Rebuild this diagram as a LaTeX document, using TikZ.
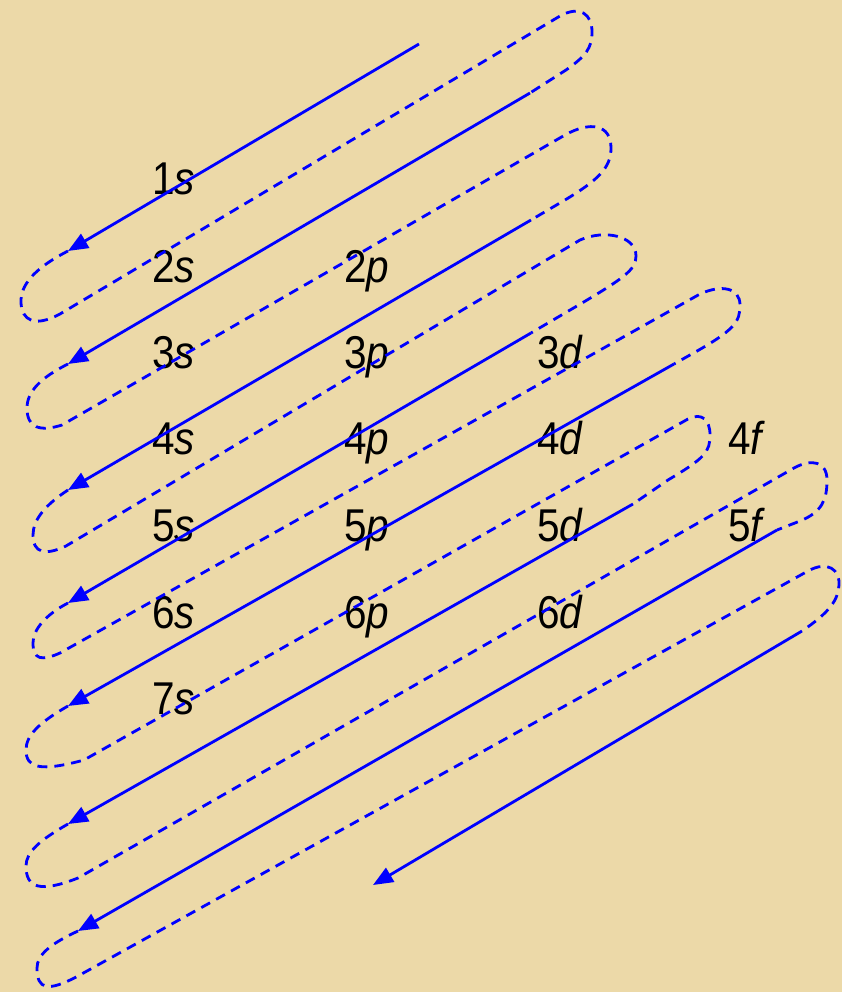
\documentclass[tikz,border=0pt]{standalone}
\usepackage{fontspec}
\setmainfont{Liberation Sans}[FakeStretch=0.88]
\usetikzlibrary{arrows.meta}
\definecolor{paper}{RGB}{236,217,168}
\definecolor{lineblue}{RGB}{0,0,255}

\begin{document}
\begin{tikzpicture}[x=1pt, y=-1pt,
  every node/.style={anchor=base west, inner sep=0pt, font=\fontsize{46}{50}\selectfont},
  fill arrow/.style={lineblue, line width=2.8pt, -{Triangle[length=20pt,width=16pt]}},
  back loop/.style={lineblue, line width=2.8pt, dash pattern=on 10pt off 7pt}]

%Background
\useasboundingbox (0,0) rectangle (842,992);
\fill [paper] (0,0) rectangle (842,992);

%Subshell labels
\node (n1s) at (152,195) {1\textit{s}};

\node (n2s) at (152,282) {2\textit{s}};
\node (n2p) at (344,282) {2\textit{p}};

\node (n3s) at (152,368) {3\textit{s}};
\node (n3p) at (344,368) {3\textit{p}};
\node (n3d) at (537,368) {3\textit{d}};

\node (n4s) at (152,454) {4\textit{s}};
\node (n4p) at (344,454) {4\textit{p}};
\node (n4d) at (537,454) {4\textit{d}};
\node (n4f) at (728,454) {4\textit{f}};

\node (n5s) at (152,541) {5\textit{s}};
\node (n5p) at (344,541) {5\textit{p}};
\node (n5d) at (537,541) {5\textit{d}};
\node (n5f) at (728,541) {5\textit{f}};

\node (n6s) at (152,628) {6\textit{s}};
\node (n6p) at (344,628) {6\textit{p}};
\node (n6d) at (537,628) {6\textit{d}};

\node (n7s) at (152,714) {7\textit{s}};

%Arrow end points
\coordinate (top1) at (419,44);
\coordinate (tip1) at (68,251);
\coordinate (top2) at (530,93);
\coordinate (tip2) at (68,364);
\coordinate (top3) at (531,220);
\coordinate (tip3) at (68,490);
\coordinate (top4) at (531,333);
\coordinate (tip4) at (68,603);
\coordinate (top5) at (674,364);
\coordinate (tip5) at (68,706);
\coordinate (top6) at (633,504);
\coordinate (tip6) at (68,824);
\coordinate (top7) at (777,530);
\coordinate (tip7) at (78,931);
\coordinate (top8) at (802,631);
\coordinate (tip8) at (373,885);

%Filling order arrows
\draw [fill arrow] (top1) -- (tip1);
\draw [fill arrow] (top2) -- (tip2);
\draw [fill arrow] (top3) -- (tip3);
\draw [fill arrow] (top4) -- (tip4);
\draw [fill arrow] (top5) -- (tip5);
\draw [fill arrow] (top6) -- (tip6);
\draw [fill arrow] (top7) -- (tip7);
\draw [fill arrow] (top8) -- (tip8);

%Dashed return loops
\draw [back loop] (tip1) .. controls (33,269) and (20,286) .. (21,303) .. controls (22,320) and (34,328) .. (60,314)
  -- (560,16) .. controls (580,5) and (592,14) .. (592,32) .. controls (592,48) and (586,56) .. (566,70) -- (top2);
\draw [back loop] (tip2) .. controls (40,378) and (27,392) .. (27,408) .. controls (27,428) and (40,432) .. (62,425)
  -- (565,135) .. controls (590,121) and (611,124) .. (611,148) .. controls (611,168) and (598,180) .. (565,200) -- (top3);
\draw [back loop] (tip3) .. controls (45,505) and (33,520) .. (33,535) .. controls (33,553) and (45,556) .. (66,546)
  -- (580,240) .. controls (605,229) and (636,236) .. (636,256) .. controls (636,270) and (625,278) .. (565,313) -- (top4);
\draw [back loop] (tip4) .. controls (45,615) and (33,630) .. (33,643) .. controls (33,660) and (42,661) .. (60,653)
  -- (700,294) .. controls (722,284) and (740,288) .. (740,305) .. controls (740,322) and (735,330) .. (690,355) -- (top5);
\draw [back loop] (tip5) .. controls (40,722) and (26,735) .. (26,750) .. controls (26,768) and (40,772) .. (84,760)
  -- (688,419) .. controls (702,412) and (710,420) .. (710,435) .. controls (710,452) and (705,458) .. (668,480) -- (top6);
\draw [back loop] (tip6) .. controls (40,840) and (26,852) .. (26,866) .. controls (26,888) and (40,893) .. (78,878)
  -- (794,468) .. controls (812,458) and (827,462) .. (827,480) .. controls (827,500) and (822,512) .. (800,521) -- (top7);
\draw [back loop] (tip7) .. controls (50,944) and (37,955) .. (37,968) .. controls (37,990) and (48,992) .. (78,976)
  -- (808,571) .. controls (828,560) and (840,570) .. (839,585) .. controls (838,600) and (830,612) .. (top8);

\end{tikzpicture}
\end{document}
